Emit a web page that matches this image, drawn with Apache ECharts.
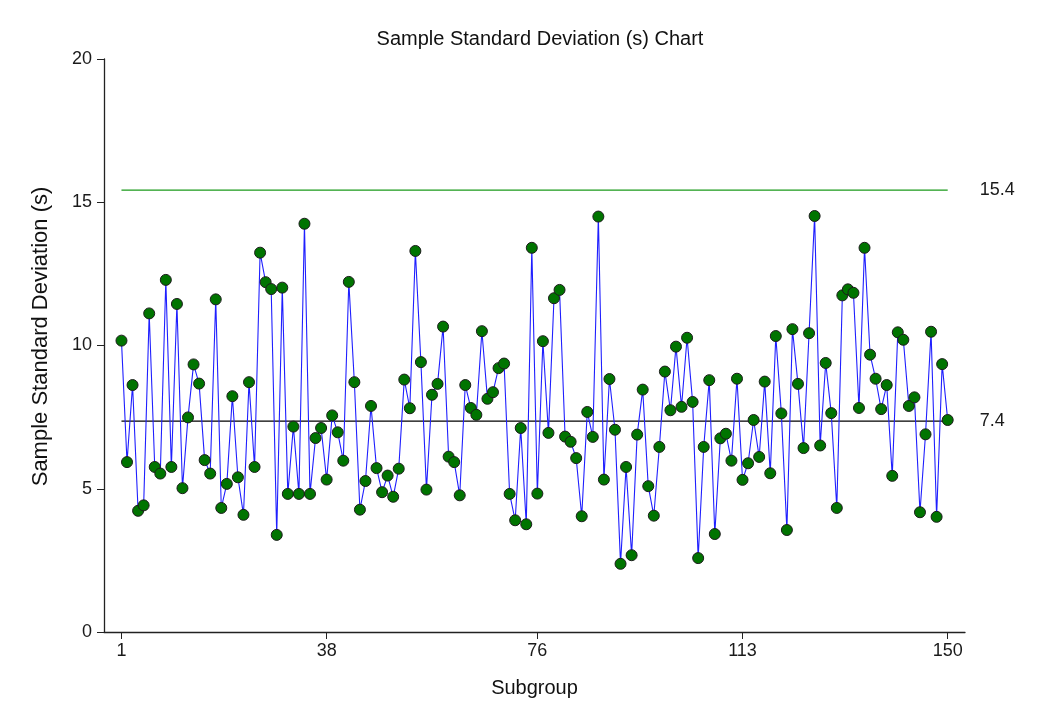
<!DOCTYPE html>
<html>
<head>
<meta charset="utf-8">
<script src="https://cdn.jsdelivr.net/npm/echarts@6/dist/echarts.min.js"></script>
<style>
html,body{margin:0;padding:0;background:#fff;}
#chart{width:1052px;height:725px;}
</style>
</head>
<body>
<div id="chart"></div>
<script>
// ---- data ----
const chartTitle = 'Sample Standard Deviation (s) Chart';
const xAxisName = 'Subgroup';
const yAxisName = 'Sample Standard Deviation (s)';
const sValues = [
  10.17, 5.93, 8.62, 4.23, 4.42, 11.12, 5.76, 5.53, 12.29, 5.76,
  11.45, 5.02, 7.49, 9.34, 8.67, 6.00, 5.53, 11.61, 4.33, 5.17,
  8.23, 5.40, 4.09, 8.72, 5.76, 13.24, 12.21, 11.97, 3.39, 12.02,
  4.82, 7.17, 4.82, 14.25, 4.82, 6.77, 7.12, 5.32, 7.56, 6.97,
  5.98, 12.22, 8.72, 4.27, 5.27, 7.89, 5.72, 4.88, 5.46, 4.72,
  5.70, 8.81, 7.81, 13.30, 9.42, 4.97, 8.28, 8.66, 10.66, 6.12,
  5.93, 4.77, 8.62, 7.82, 7.58, 10.50, 8.14, 8.37, 9.21, 9.37,
  4.82, 3.90, 7.12, 3.76, 13.41, 4.83, 10.15, 6.95, 11.65, 11.94,
  6.82, 6.64, 6.07, 4.04, 7.68, 6.81, 14.50, 5.32, 8.83, 7.06,
  2.38, 5.76, 2.68, 6.89, 8.46, 5.09, 4.06, 6.46, 9.09, 7.74,
  9.96, 7.86, 10.27, 8.03, 2.58, 6.46, 8.79, 3.42, 6.76, 6.92,
  5.98, 8.84, 5.31, 5.89, 7.40, 6.11, 8.74, 5.54, 10.33, 7.63,
  3.56, 10.57, 8.66, 6.42, 10.43, 14.52, 6.51, 9.39, 7.64, 4.33,
  11.75, 11.96, 11.84, 7.82, 13.41, 9.68, 8.84, 7.78, 8.62, 5.45,
  10.46, 10.20, 7.89, 8.19, 4.18, 6.90, 10.48, 4.02, 9.35, 7.40
];
const xTickValues = [1, 38, 76, 113, 150];
const ucl = 15.42;
const cl = 7.36;
const uclLabel = '15.4';
const clLabel = '7.4';

// ---- build ----
const FONT = "'Liberation Sans', Arial, sans-serif";
const firstX = 1;
const lastX = sValues.length;
const points = sValues.map((v, i) => [i + 1, v]);

function limitSeries(name, y, txt, color) {
  return {
    name: name, type: 'line', z: 1, symbol: 'none', silent: true,
    lineStyle: { color: color, width: 1.2 },
    endLabel: { show: true, distance: 32, formatter: txt,
                color: '#1a1a1a', fontSize: 18, fontFamily: FONT },
    data: [[firstX, y], [lastX, y]]
  };
}

const chart = echarts.init(document.getElementById('chart'), null, { renderer: 'canvas' });
chart.setOption({
  backgroundColor: '#ffffff',
  animation: false,
  title: {
    text: chartTitle,
    left: 535, top: 24, textAlign: 'center',
    textStyle: { fontFamily: FONT, fontSize: 20, fontWeight: 'normal', color: '#111' }
  },
  grid: { left: 104, top: 59, right: 87, bottom: 93, containLabel: false },
  xAxis: {
    type: 'value',
    min: -2.15, max: 153.12,
    name: xAxisName, nameLocation: 'middle', nameGap: 46,
    nameTextStyle: { fontFamily: FONT, fontSize: 20, color: '#111' },
    axisLine: { show: true, onZero: false, lineStyle: { color: '#222', width: 1.3 } },
    axisTick: { show: true, length: 7, customValues: xTickValues, lineStyle: { color: '#222' } },
    axisLabel: { customValues: xTickValues, margin: 10, fontFamily: FONT, fontSize: 18, color: '#1a1a1a' },
    splitLine: { show: false }
  },
  yAxis: {
    type: 'value',
    min: 0, max: 20, interval: 5,
    name: yAxisName, nameLocation: 'middle', nameGap: 52, nameRotate: 90,
    nameTextStyle: { fontFamily: FONT, fontSize: 22, color: '#111', padding: [0, 0, 0, 18] },
    axisLine: { show: true, onZero: false, lineStyle: { color: '#222', width: 1.3 } },
    axisTick: { show: true, length: 7, lineStyle: { color: '#222' } },
    axisLabel: { margin: 12, fontFamily: FONT, fontSize: 18, color: '#1a1a1a' },
    splitLine: { show: false }
  },
  series: [
    limitSeries('UCL', ucl, uclLabel, '#1a9a1a'),
    limitSeries('CL', cl, clLabel, '#000000'),
    {
      name: 's', type: 'line', z: 3,
      symbol: 'circle', symbolSize: 11, showAllSymbol: true,
      lineStyle: { color: '#1f1fff', width: 1.1 },
      itemStyle: { color: '#007400', borderColor: '#1c1c1c', borderWidth: 1 },
      data: points
    }
  ]
});
</script>
</body>
</html>
